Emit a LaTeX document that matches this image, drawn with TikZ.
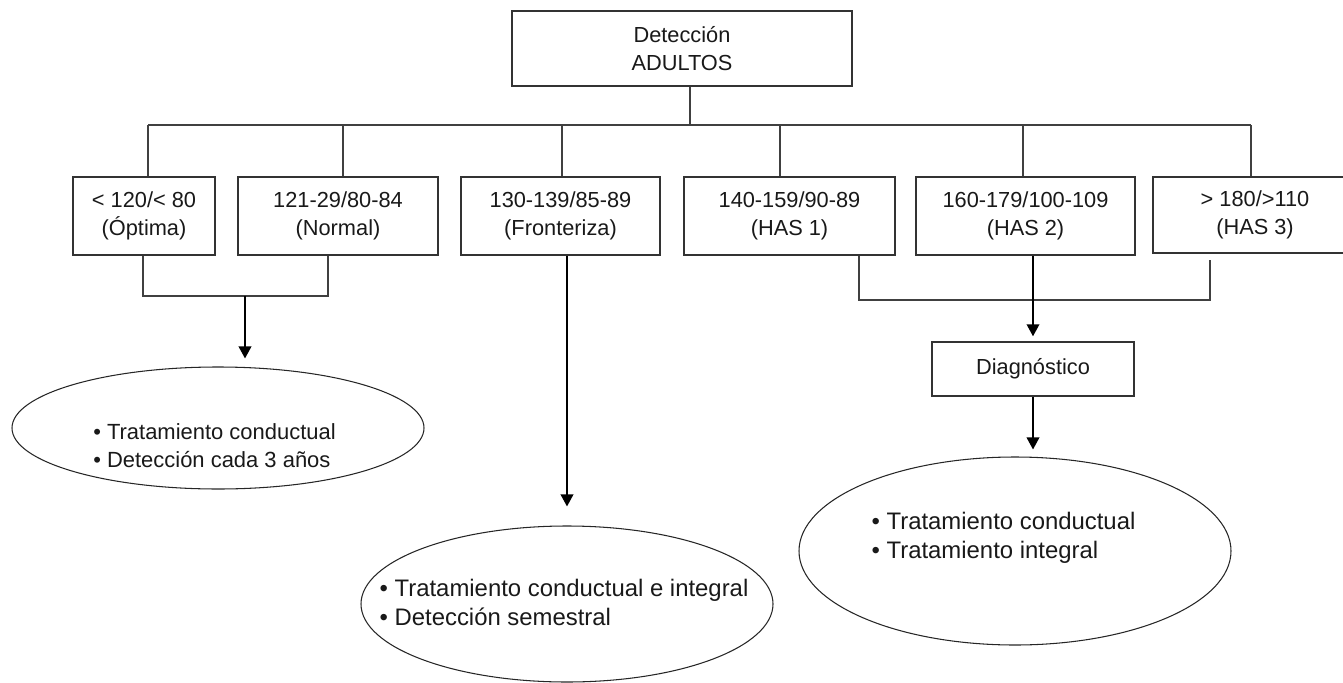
\documentclass[tikz,border=0pt]{standalone}
\usepackage{fontspec}
\setmainfont{Liberation Sans}
\usetikzlibrary{arrows.meta,shapes.geometric}

\def\unitpx{0.02cm}
\tikzset{
  box/.style={draw=black!80, line width=0.8pt, rectangle, inner sep=0pt, align=center,
    text=black!90, font=\fontsize{12.4pt}{15.9pt}\selectfont},
  oval/.style={draw=black!85, line width=0.6pt, ellipse, inner sep=0pt},
  bullets/.style={align=left, inner sep=0pt, text=black!90,
    font=\fontsize{12.5pt}{15.9pt}\selectfont},
  bigbullets/.style={bullets, font=\fontsize{13.6pt}{16.5pt}\selectfont},
  link/.style={draw=black!75, line width=0.8pt},
  flow/.style={draw=black, line width=1.1pt, -{Triangle[length=0.24cm,width=0.25cm]}}
}

\begin{document}
\begin{tikzpicture}[x=\unitpx, y=-\unitpx]
    \useasboundingbox (0,0) rectangle (1343,683);

    \node[box, minimum width=340*\unitpx, minimum height=75*\unitpx] (top) at (682,48.5) {Detección\\ADULTOS};

    \node[box, minimum width=142*\unitpx, minimum height=78*\unitpx] (b1) at (144,216) {< 120/< 80\\(Óptima)};
    \node[box, minimum width=200*\unitpx, minimum height=78*\unitpx] (b2) at (338,216) {121-29/80-84\\(Normal)};
    \node[box, minimum width=199*\unitpx, minimum height=78*\unitpx] (b3) at (560.5,216) {130-139/85-89\\(Fronteriza)};
    \node[box, minimum width=211*\unitpx, minimum height=78*\unitpx] (b4) at (789.5,216) {140-159/90-89\\(HAS 1)};
    \node[box, minimum width=219*\unitpx, minimum height=78*\unitpx] (b5) at (1025.5,216) {160-179/100-109\\(HAS 2)};
    \node[box, minimum width=204*\unitpx, minimum height=76*\unitpx] (b6) at (1255,215) {> 180/>110\\(HAS 3)};

    \node[box, minimum width=202*\unitpx, minimum height=54*\unitpx] (diag) at (1033,369) {Diagnóstico};

    \node[oval, minimum width=412*\unitpx, minimum height=122*\unitpx] (res1) at (218,428) {};
    \node[oval, minimum width=412*\unitpx, minimum height=156*\unitpx] (res3) at (567,604) {};
    \node[oval, minimum width=432*\unitpx, minimum height=188*\unitpx] (res2) at (1015,551) {};
    \node[bullets] (t1) at (214.5,446) {• Tratamiento conductual\\• Detección cada 3 años};
    \node[bigbullets] (t3) at (564,602) {• Tratamiento conductual e integral\\• Detección semestral};
    \node[bigbullets] (t2) at (1003.5,538) {• Tratamiento conductual\\• Tratamiento integral};

    \coordinate (bus) at (690,125);
    \draw[link] (top.south -| bus) -- (bus);
    \draw[link] (148,125) -- (1251,125);
    \foreach \b/\x in {b1/148,b2/343,b3/562,b4/780,b5/1023,b6/1251}
        \draw[link] (\x,125) -- (\b.north -| \x,0);

    \coordinate (j1) at (143,296);
    \coordinate (j2) at (328,296);
    \coordinate (m12) at (245,296);
    \draw[link] (b1.south -| j1) -- (j1) -- (j2) -- (b2.south -| j2);
    \draw[flow, shorten >=8*\unitpx] (m12) -- (res1.north -| m12);

    \draw[flow, shorten >=19*\unitpx] (b3.south -| res3.north) -- (res3.north);

    \coordinate (j4) at (859,300);
    \coordinate (j6) at (1210,300);
    \draw[link, shorten >=6*\unitpx] (b4.south -| j4) -- (j4) -- (j6) -- (b6.south -| j6);
    \draw[flow, shorten >=5*\unitpx] (b5.south -| diag.north) -- (diag.north);
    \draw[flow, shorten >=7*\unitpx] (diag.south) -- (res2.north -| diag.south);
\end{tikzpicture}
\end{document}
